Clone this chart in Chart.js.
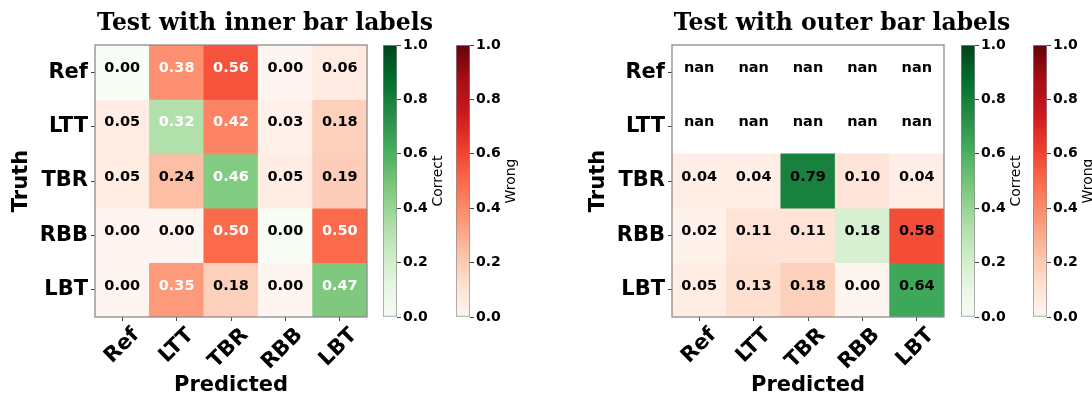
<!DOCTYPE html>
<html>
<head>
<meta charset="utf-8">
<script src="https://cdn.jsdelivr.net/npm/chart.js@4.4.1/dist/chart.umd.min.js"></script>
<style>
  html, body { margin: 0; padding: 0; background: #fff; width: 1092px; height: 396px; overflow: hidden; }
  .box { position: absolute; top: 0; height: 396px; }
</style>
</head>
<body>
<div class="box" style="left:0;width:530px"><canvas id="innerMap"></canvas></div>
<div class="box" style="left:577px;width:530px"><canvas id="outerMap"></canvas></div>
<div class="box" style="left:383px;width:70px"><canvas id="innerCorrect"></canvas></div>
<div class="box" style="left:456px;width:70px"><canvas id="innerWrong"></canvas></div>
<div class="box" style="left:961px;width:70px"><canvas id="outerCorrect"></canvas></div>
<div class="box" style="left:1033px;width:70px"><canvas id="outerWrong"></canvas></div>
<script>
// data
const classes = ['Ref', 'LTT', 'TBR', 'RBB', 'LBT'];
const innerValues = [
  [0.00, 0.38, 0.56, 0.00, 0.06],
  [0.05, 0.32, 0.42, 0.03, 0.18],
  [0.05, 0.24, 0.46, 0.05, 0.19],
  [0.00, 0.00, 0.50, 0.00, 0.50],
  [0.00, 0.35, 0.18, 0.00, 0.47]
];
const outerValues = [
  [NaN, NaN, NaN, NaN, NaN],
  [NaN, NaN, NaN, NaN, NaN],
  [0.04, 0.04, 0.79, 0.10, 0.04],
  [0.02, 0.11, 0.11, 0.18, 0.58],
  [0.05, 0.13, 0.18, 0.00, 0.64]
];
const cbarTicks = [0, 0.2, 0.4, 0.6, 0.8, 1.0];

// matplotlib Greens / Reds
const greens = ['#f7fcf5', '#e5f5e0', '#c7e9c0', '#a1d99b', '#74c476', '#41ab5d', '#238b45', '#006d2c', '#00441b'];
const reds = ['#fff5f0', '#fee0d2', '#fcbba1', '#fc9272', '#fb6a4a', '#ef3b2c', '#cb181d', '#a50f15', '#67000d'];

Chart.defaults.font.family = '"DejaVu Sans"';
Chart.defaults.color = '#000';

function hexRgb(h) {
  return [1, 3, 5].map(k => parseInt(h.substr(k, 2), 16));
}

function cmap(stops, v) {
  const t = Math.min(Math.max(v, 0), 1) * (stops.length - 1);
  const k = Math.min(Math.floor(t), stops.length - 2);
  const f = t - k;
  const a = hexRgb(stops[k]), b = hexRgb(stops[k + 1]);
  const c = a.map((x, n) => Math.round(x + (b[n] - x) * f));
  return `rgb(${c[0]}, ${c[1]}, ${c[2]})`;
}

const framePlugin = {
  id: 'frame',
  afterDatasetsDraw(chart) {
    const { ctx, chartArea: a } = chart;
    ctx.save();
    ctx.strokeStyle = '#8c8c8c';
    ctx.lineWidth = 1.3;
    ctx.strokeRect(a.left, a.top, a.right - a.left, a.bottom - a.top);
    ctx.restore();
  }
};

const cellText = {
  id: 'cellText',
  afterDatasetsDraw(chart, args, opts) {
    const ctx = chart.ctx;
    ctx.save();
    ctx.font = 'bold 14.5px "DejaVu Sans"';
    ctx.textAlign = 'center';
    ctx.textBaseline = 'middle';
    chart.data.datasets.forEach((ds, i) => {
      chart.getDatasetMeta(i).data.forEach((bar, j) => {
        const v = ds.values[j];
        ctx.fillStyle = v > opts.thresh ? '#fff' : '#000';
        ctx.fillText(isNaN(v) ? 'nan' : v.toFixed(2), bar.x, (bar.y + bar.base) / 2 - 4);
      });
    });
    ctx.restore();
  }
};

const cbarLabel = {
  id: 'cbarLabel',
  afterDraw(chart, args, opts) {
    const { ctx, chartArea: a } = chart;
    ctx.save();
    ctx.translate(a.left + 55, (a.top + a.bottom) / 2);
    ctx.rotate(-Math.PI / 2);
    ctx.font = '14px "DejaVu Sans"';
    ctx.fillStyle = '#000';
    ctx.textAlign = 'center';
    ctx.textBaseline = 'middle';
    ctx.fillText(opts.text, 0, 0);
    ctx.restore();
  }
};

function makeMap(id, title, values) {
  // NaN anywhere gives a NaN threshold, so every label stays black
  const thresh = Math.max(...values.flat()) / 2;
  new Chart(document.getElementById(id), {
    type: 'bar',
    data: {
      labels: classes,
      datasets: values.map((row, i) => ({
        data: row.map(() => [i, i + 1]),
        values: row,
        backgroundColor: row.map((v, j) => isNaN(v) ? 'rgba(0,0,0,0)' : cmap(i === j ? greens : reds, v)),
        borderWidth: 0,
        barPercentage: 1,
        categoryPercentage: 1,
        grouped: false
      }))
    },
    options: {
      responsive: true,
      maintainAspectRatio: false,
      animation: false,
      layout: { padding: 0 },
      scales: {
        x: {
          afterFit: a => { a.height = 79; },
          ticks: { font: { size: 21, weight: 'bold' }, color: '#000', maxRotation: 45, minRotation: 45, autoSkip: false, labelOffset: 14, padding: 2 },
          grid: { offset: false, drawOnChartArea: false, tickLength: 4, color: '#444' },
          border: { display: false },
          title: { display: true, text: 'Predicted', font: { size: 21, weight: 'bold' }, color: '#000', padding: { top: 0, bottom: -2 } }
        },
        y: {
          type: 'linear', min: 0, max: 5, reverse: true,
          afterBuildTicks: a => { a.ticks = classes.map((c, i) => ({ value: i + 0.5 })); },
          afterFit: a => { a.width = 95; },
          ticks: { callback: (v, i) => classes[i], font: { size: 21, weight: 'bold' }, color: '#000', padding: 3 },
          grid: { drawOnChartArea: false, tickLength: 4, color: '#444' },
          border: { display: false },
          title: { display: true, text: 'Truth', font: { size: 21, weight: 'bold' }, color: '#000', padding: { top: 9, bottom: 0 } }
        },
        yPad: {
          position: 'right',
          afterFit: a => { a.width = 163; },
          ticks: { display: false },
          grid: { display: false },
          border: { display: false }
        }
      },
      plugins: {
        legend: { display: false },
        tooltip: { enabled: false },
        title: { display: true, text: title, font: { family: '"DejaVu Serif"', size: 23.5, weight: 'bold' }, color: '#000', padding: { top: 10, bottom: 6.8 } },
        cellText: { thresh: thresh }
      }
    },
    plugins: [framePlugin, cellText]
  });
}

function makeBar(id, stops, label) {
  new Chart(document.getElementById(id), {
    type: 'bar',
    data: {
      labels: [''],
      datasets: [{
        data: [[0, 1]],
        backgroundColor: c => {
          const a = c.chart.chartArea;
          if (!a) return stops[0];
          const g = c.chart.ctx.createLinearGradient(0, a.bottom, 0, a.top);
          stops.forEach((s, k) => g.addColorStop(k / (stops.length - 1), s));
          return g;
        },
        borderColor: '#8c8c8c',
        borderWidth: 1,
        borderSkipped: false,
        barPercentage: 1,
        categoryPercentage: 1
      }]
    },
    options: {
      responsive: true,
      maintainAspectRatio: false,
      animation: false,
      layout: { padding: { top: 45, bottom: 79, left: 0, right: 0 } },
      scales: {
        x: { display: false },
        y: {
          position: 'right', min: 0, max: 1,
          afterBuildTicks: a => { a.ticks = cbarTicks.map(v => ({ value: v })); },
          afterFit: a => { a.width = 56; },
          ticks: { callback: v => v.toFixed(1), font: { size: 14, weight: 'bold' }, color: '#000', padding: 2 },
          grid: { drawOnChartArea: false, tickLength: 4, color: '#444' },
          border: { display: false }
        }
      },
      plugins: {
        legend: { display: false },
        tooltip: { enabled: false },
        cbarLabel: { text: label }
      }
    },
    plugins: [cbarLabel]
  });
}

makeMap('innerMap', 'Test with inner bar labels', innerValues);
makeMap('outerMap', 'Test with outer bar labels', outerValues);
makeBar('innerCorrect', greens, 'Correct');
makeBar('innerWrong', reds, 'Wrong');
makeBar('outerCorrect', greens, 'Correct');
makeBar('outerWrong', reds, 'Wrong');
</script>
</body>
</html>
